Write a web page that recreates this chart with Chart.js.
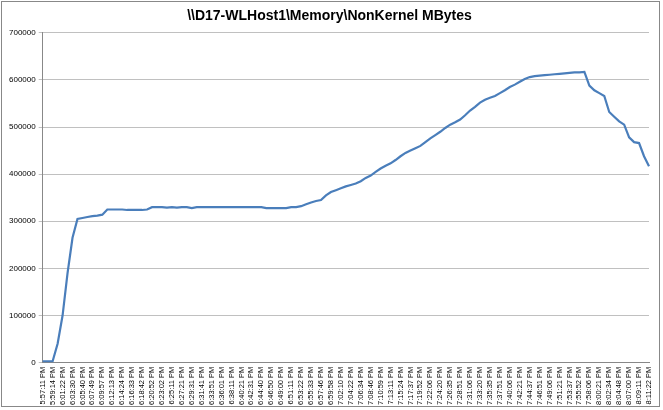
<!DOCTYPE html>
<html>
<head>
<script src="https://cdn.jsdelivr.net/npm/chart.js@4"></script>
<style>
body { margin: 0; background: #fff; }
#wrap { position: absolute; left: 1px; top: 1px; width: 659px; height: 406px; border: 1px solid #888; box-sizing: border-box; }
</style>
</head>
<body>
<div id="wrap"><canvas id="memChart"></canvas></div>
<script>
const times = ['5:57:11 PM','5:59:14 PM','6:01:22 PM','6:03:30 PM','6:05:40 PM','6:07:49 PM','6:09:57 PM','6:12:13 PM','6:14:24 PM','6:16:33 PM','6:18:42 PM','6:20:52 PM','6:23:02 PM','6:25:11 PM','6:27:21 PM','6:29:31 PM','6:31:41 PM','6:33:51 PM','6:36:01 PM','6:38:11 PM','6:40:21 PM','6:42:31 PM','6:44:40 PM','6:46:50 PM','6:49:00 PM','6:51:11 PM','6:53:22 PM','6:55:33 PM','6:57:46 PM','6:59:58 PM','7:02:10 PM','7:04:22 PM','7:06:34 PM','7:08:46 PM','7:10:59 PM','7:13:11 PM','7:15:24 PM','7:17:37 PM','7:19:52 PM','7:22:06 PM','7:24:20 PM','7:26:35 PM','7:28:51 PM','7:31:06 PM','7:33:20 PM','7:35:35 PM','7:37:51 PM','7:40:06 PM','7:42:21 PM','7:44:37 PM','7:46:51 PM','7:49:06 PM','7:51:21 PM','7:53:37 PM','7:55:52 PM','7:58:06 PM','8:00:21 PM','8:02:34 PM','8:04:48 PM','8:07:00 PM','8:09:11 PM','8:11:22 PM'];

// two samples per labelled time
const mbytes = [3000,3000,3000,40000,100000,190000,265000,305000,307000,309000,
  311000,312000,314000,325000,325000,325000,325000,324000,324000,324000,
  324000,325000,330000,330000,330000,329000,330000,329000,330000,330000,
  328000,330000,330000,330000,330000,330000,330000,330000,330000,330000,
  330000,330000,330000,330000,330000,328000,328000,328000,328000,328000,
  330000,330000,332000,336000,340000,343000,345000,355000,362000,366000,
  370000,374000,377000,380000,385000,392000,397000,405000,412000,418000,
  423000,430000,438000,445000,450000,455000,460000,468000,476000,483000,
  490000,498000,505000,510000,516000,525000,535000,543000,552000,558000,
  562000,566000,572000,578000,585000,590000,596000,602000,606000,608000,
  609000,610000,611000,612000,613000,614000,615000,616000,616000,617000,
  588000,578000,572000,566000,532000,522000,512000,505000,478000,468000,
  466000,438000,417000];

const labels = [];
times.forEach((t, i) => { labels.push(t); if (i < times.length - 1) labels.push(''); });

new Chart(document.getElementById('memChart').getContext('2d'), {
    type: 'line',
    data: {
        labels: labels,
        datasets: [{
            data: mbytes,
            borderColor: '#4a7ebb',
            borderWidth: 2.2,
            pointRadius: 0,
            tension: 0
        }]
    },
    options: {
        responsive: true,
        maintainAspectRatio: false,
        animation: false,
        layout: { padding: { left: 4, right: 6, top: 4, bottom: 0 } },
        plugins: {
            legend: { display: false },
            tooltip: { enabled: false },
            title: {
                display: true,
                text: '\\\\D17-WLHost1\\Memory\\NonKernel MBytes',
                color: '#000',
                font: { family: 'Liberation Sans', size: 14, weight: 'bold' },
                padding: { top: 2, bottom: 8 }
            }
        },
        scales: {
            x: {
                offset: false,
                grid: { display: false, drawTicks: true, tickLength: 3, color: '#888' },
                border: { color: '#888' },
                ticks: {
                    autoSkip: false, maxRotation: 90, minRotation: 90,
                    color: '#000', padding: 1,
                    font: { family: 'Liberation Sans', size: 7.5 }
                }
            },
            y: {
                min: 0, max: 700000,
                grid: { color: '#c0c0c0', tickLength: 4 },
                border: { color: '#888' },
                ticks: {
                    stepSize: 100000, color: '#000',
                    font: { family: 'Liberation Sans', size: 8 },
                    callback: v => String(v)
                }
            }
        }
    }
});
</script>
</body>
</html>
